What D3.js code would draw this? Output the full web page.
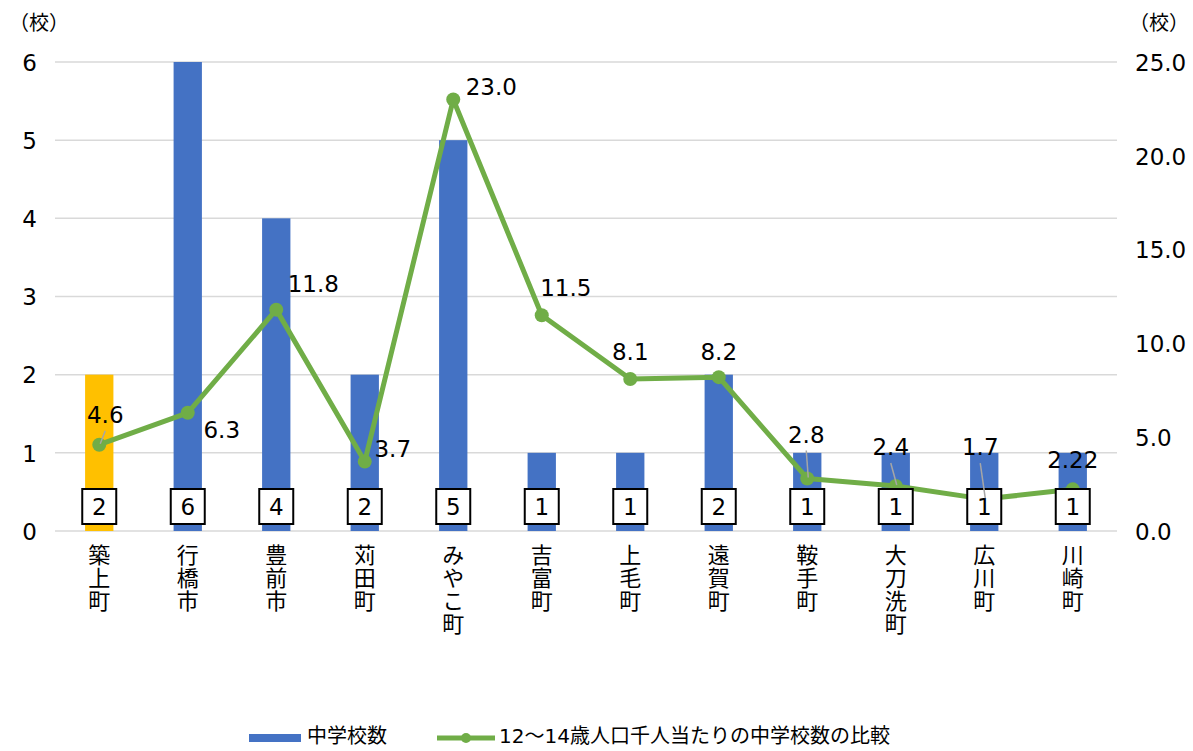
<!DOCTYPE html>
<html><head><meta charset="utf-8">
<script src="https://cdn.jsdelivr.net/npm/d3@7"></script>
<style>body{margin:0;background:#fff}svg{display:block}text{font-family:"DejaVu Sans","Noto Sans CJK JP",sans-serif;fill:#000}.cj{font-family:"Noto Sans CJK JP",sans-serif}.vt{writing-mode:vertical-rl;text-orientation:upright}</style>
</head><body><svg id="c" width="1193" height="751"></svg>
<script>
const categories = ["築上町","行橋市","豊前市","苅田町","みやこ町","吉富町","上毛町","遠賀町","鞍手町","大刀洗町","広川町","川崎町"];
const schools = [2,6,4,2,5,1,1,2,1,1,1,1];
const ratio = [4.6,6.3,11.8,3.7,23.0,11.5,8.1,8.2,2.8,2.4,1.7,2.22];
const ratioLabels = ["4.6","6.3","11.8","3.7","23.0","11.5","8.1","8.2","2.8","2.4","1.7","2.22"];
const leftTicks = [0,1,2,3,4,5,6];
const rightTicks = [0,5,10,15,20,25];
const highlight = "築上町";
const seriesNames = ["中学校数","12～14歳人口千人当たりの中学校数の比較"];
// label offsets [dx, dy, leader] relative to point
const labelPos = [[6,-30,true],[34,17,false],[37,-26,false],[28,-13,false],[38,-13,false],[24,-28,false],[0,-27,false],[0,-25,false],[-1,-44,true],[-5,-39,true],[-4,-52,true],[0,-30,false]];

const svg = d3.select("#c");
const L = 55, R = 1117, T = 62, B = 531;
const x = d3.scaleBand().domain(categories).range([L,R]).paddingInner(0.68).paddingOuter(0.34);
const yL = d3.scaleLinear().domain([0,6]).range([B,T]);
const yR = d3.scaleLinear().domain([0,25]).range([B,T]);
const cx = c => x(c) + x.bandwidth()/2;

// gridlines
svg.append("g").selectAll("line").data(leftTicks).join("line")
  .attr("x1",L).attr("x2",R).attr("y1",d=>yL(d)).attr("y2",d=>yL(d))
  .attr("stroke","#d9d9d9").attr("stroke-width",1.5);

// left axis
const gl = svg.append("g").attr("transform",`translate(${L},0)`)
  .call(d3.axisLeft(yL).tickValues(leftTicks).tickSize(0).tickPadding(18).tickFormat(d3.format("d")));
gl.select(".domain").remove();
gl.selectAll("text").style("font-size","23px").attr("dy","0.36em");
// right axis
const gr = svg.append("g").attr("transform",`translate(${R},0)`)
  .call(d3.axisRight(yR).tickValues(rightTicks).tickSize(0).tickPadding(18).tickFormat(d3.format(".1f")));
gr.select(".domain").remove();
gr.selectAll("text").style("font-size","23px").attr("dy","0.36em");

svg.append("text").attr("class","cj").attr("x",9).attr("y",30).style("font-size","20px").text("（校）");
svg.append("text").attr("class","cj").attr("x",1129).attr("y",30).style("font-size","20px").text("（校）");

// bars
svg.append("g").selectAll("rect").data(categories).join("rect")
  .attr("x",d=>x(d)).attr("width",x.bandwidth())
  .attr("y",(d,i)=>yL(schools[i])).attr("height",(d,i)=>yL(0)-yL(schools[i]))
  .attr("fill",d=>d===highlight?"#FFC000":"#4472C4");

// line
const line = d3.line().x((d,i)=>cx(categories[i])).y(d=>yR(d));
svg.append("path").datum(ratio).attr("d",line).attr("fill","none")
  .attr("stroke","#70AD47").attr("stroke-width",5).attr("stroke-linejoin","round");
svg.append("g").selectAll("circle").data(ratio).join("circle")
  .attr("cx",(d,i)=>cx(categories[i])).attr("cy",d=>yR(d)).attr("r",7).attr("fill","#70AD47");

// value boxes
const bx = svg.append("g");
categories.forEach((c,i)=>{
  bx.append("rect").attr("x",cx(c)-17).attr("y",489).attr("width",34).attr("height",35)
    .attr("fill","#fff").attr("stroke","#000").attr("stroke-width",2);
  bx.append("text").attr("x",cx(c)).attr("y",507).attr("dy","0.36em").attr("text-anchor","middle")
    .style("font-size","23px").text(schools[i]);
});

// ratio labels + leaders
const lg = svg.append("g");
ratio.forEach((v,i)=>{
  const px = cx(categories[i]), py = yR(v);
  const [dx,dy,lead] = labelPos[i];
  const lx = px+dx, ly = py+dy;
  if(lead){
    lg.append("line").attr("x1",lx).attr("y1",ly+16).attr("x2",px+1).attr("y2",py-1)
      .attr("stroke","#a6a6a6").attr("stroke-width",1.5);
  }
  lg.append("text").attr("x",lx).attr("y",ly).attr("dy","0.36em")
    .attr("text-anchor","middle").style("font-size","23px").text(ratioLabels[i]);
});

// category labels (vertical)
svg.append("g").selectAll("text").data(categories).join("text")
  .attr("class","cj vt").attr("x",d=>cx(d)).attr("y",544)
  .style("font-size","22px").style("letter-spacing","1px").text(d=>d);

// legend
const leg = svg.append("g");
leg.append("rect").attr("x",249).attr("y",734).attr("width",52).attr("height",8).attr("fill","#4472C4");
leg.append("text").attr("class","cj").attr("x",307).attr("y",736).attr("dy","0.36em").style("font-size","20px").text(seriesNames[0]);
leg.append("line").attr("x1",437).attr("x2",495).attr("y1",738).attr("y2",738).attr("stroke","#70AD47").attr("stroke-width",5);
leg.append("circle").attr("cx",466).attr("cy",738).attr("r",5).attr("fill","#70AD47");
leg.append("text").attr("x",499).attr("y",736).attr("dy","0.36em").style("font-size","20px").text(seriesNames[1]);
</script></body></html>
